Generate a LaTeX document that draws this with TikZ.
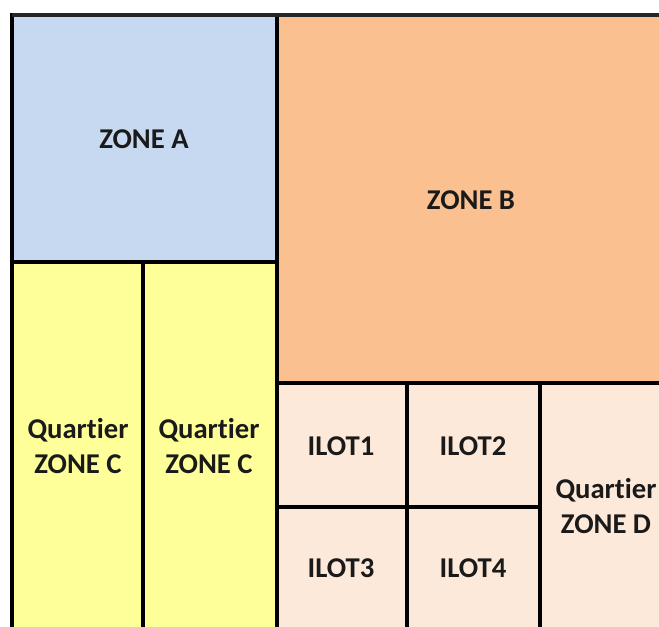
\documentclass[tikz,border=0pt]{standalone}
\usepackage{fontspec}
\setmainfont[Ligatures=NoCommon]{Carlito}
\definecolor{zoneA}{HTML}{C6D9F1}
\definecolor{zoneB}{HTML}{FAC090}
\definecolor{zoneC}{HTML}{FFFF99}
\definecolor{ilot}{HTML}{FDE9D9}
\definecolor{ink}{HTML}{1A1A1A}
\begin{document}
\begin{tikzpicture}[x=0.75pt,y=-0.75pt,
  box/.style={draw=black, line width=2.4pt},
  lab/.style={font=\bfseries\fontsize{21.5}{26}\selectfont, align=center, text=ink, inner sep=0pt}]
\useasboundingbox (0,0) rectangle (659,626);
\clip (0,0) rectangle (659,626);
\fill[white] (0,0) rectangle (659,626);
% areas
\draw[box, fill=zoneA] (12,15) rectangle (277,262);
\draw[box, fill=zoneB] (277,15) rectangle (690,383);
\draw[box, fill=zoneC] (12,262) rectangle (143,660);
\draw[box, fill=zoneC] (143,262) rectangle (277,660);
\draw[box, fill=ilot] (277,383) rectangle (407,507);
\draw[box, fill=ilot] (407,383) rectangle (540,507);
\draw[box, fill=ilot] (277,507) rectangle (407,660);
\draw[box, fill=ilot] (407,507) rectangle (540,660);
\draw[box, fill=ilot] (540,383) rectangle (690,660);
\draw[line width=3pt, black!85] (12,14.5) -- (690,14.5);
% labels
\node[lab] (za) at (144,139) {ZONE A};
\node[lab] (zb) at (471,200) {ZONE B};
\node[lab] (qc1) at (78,446) {Quartier\\ZONE C};
\node[lab] (qc2) at (209,446) {Quartier\\ZONE C};
\node[lab] (i1) at (341,446) {ILOT1};
\node[lab] (i2) at (473,446) {ILOT2};
\node[lab] (i3) at (341,568) {ILOT3};
\node[lab] (i4) at (473,568) {ILOT4};
\node[lab] (qd) at (606,506) {Quartier\\ZONE D};
\end{tikzpicture}
\end{document}
